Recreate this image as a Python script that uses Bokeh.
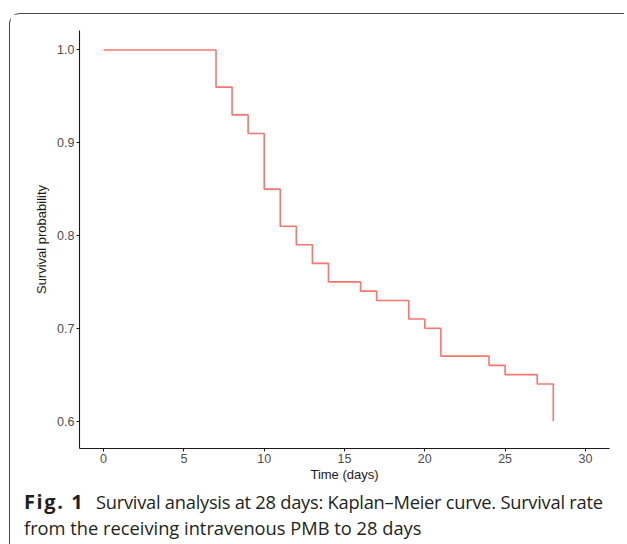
from bokeh.plotting import figure
from bokeh.models import Range1d, FixedTicker, Div
from bokeh.layouts import column
from bokeh.embed import file_html
from bokeh.resources import INLINE

# Kaplan-Meier step data (time in days, survival probability)
time_days = [0, 7, 8, 9, 10, 11, 12, 13, 14, 16, 17, 19, 20, 21, 24, 25, 27, 28, 28]
survival = [1.00, 0.96, 0.93, 0.91, 0.85, 0.81, 0.79, 0.77, 0.75, 0.74, 0.73,
            0.71, 0.70, 0.67, 0.66, 0.65, 0.64, 0.60, 0.60]
x_ticks = [0, 5, 10, 15, 20, 25, 30]
y_ticks = [0.6, 0.7, 0.8, 0.9, 1.0]

p = figure(width=614, height=476, output_backend="svg", toolbar_location=None,
           x_range=Range1d(-1.5, 31.5), y_range=Range1d(0.5704, 1.021),
           min_border_left=69, min_border_right=15, min_border_top=16,
           min_border_bottom=42)
p.outline_line_color = None
p.grid.visible = False
p.background_fill_color = "white"
p.border_fill_color = "white"

p.step(time_days, survival, mode="after", line_color="#F8766D", line_width=1.6)

for ax in (p.xaxis[0], p.yaxis[0]):
    ax.axis_line_color = "#1a1a1a"
    ax.axis_line_width = 1.1
    ax.major_tick_line_color = "#1a1a1a"
    ax.major_tick_in = 0
    ax.major_tick_out = 3
    ax.minor_tick_line_color = None
    ax.major_label_text_font = "Liberation Sans"
    ax.major_label_text_font_size = "12.5px"
    ax.major_label_text_color = "#4d4d4d"
    ax.axis_label_text_font = "Liberation Sans"
    ax.axis_label_text_font_size = "13px"
    ax.axis_label_text_font_style = "normal"
    ax.axis_label_text_color = "#1a1a1a"
    ax.major_label_standoff = 2

p.xaxis[0].ticker = FixedTicker(ticks=x_ticks)
p.yaxis[0].ticker = FixedTicker(ticks=y_ticks)
p.yaxis[0].major_label_overrides = {v: f"{v:.1f}" for v in y_ticks}
p.xaxis[0].axis_label = "Time (days)"
p.yaxis[0].axis_label = "Survival probability"
p.xaxis[0].axis_label_standoff = 1
p.yaxis[0].axis_label_standoff = 5

caption = Div(
    text=('<div style="font-family:\'Open Sans\';font-size:18.3px;line-height:26px;'
          'color:#231f20;padding-left:9px;white-space:nowrap;position:relative;top:-6px;">'
          '<span style="display:inline-block;width:72px;font-weight:bold;'
          'font-size:20px;letter-spacing:1.6px;">Fig. 1</span>'
          '<span style="letter-spacing:-0.25px;">Survival analysis at 28 days: '
          'Kaplan\u2013Meier curve. Survival rate</span><br>'
          'from the receiving intravenous PMB to 28 days</div>'),
    width=600, height=50)

layout = column(p, caption, spacing=0,
                styles={"border-left": "1.5px solid #4a4a4a",
                        "border-top": "1.5px solid #4a4a4a",
                        "border-top-left-radius": "11px",
                        "margin-left": "9px", "margin-top": "12.5px"})

open("out.html", "w").write(file_html(layout, INLINE))
